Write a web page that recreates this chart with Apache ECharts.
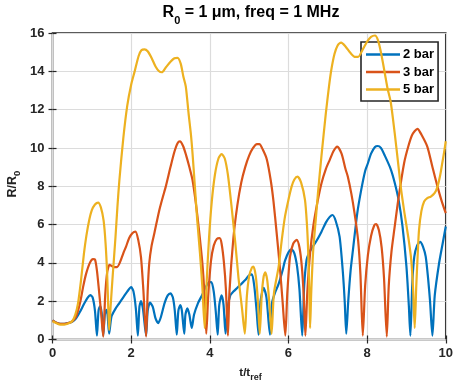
<!DOCTYPE html>
<html>
<head>
<meta charset="utf-8">
<script src="https://cdn.jsdelivr.net/npm/echarts@6/dist/echarts.min.js"></script>
<style>
  html, body { margin: 0; padding: 0; background: #fff; }
  #chart { width: 456px; height: 387px; }
</style>
</head>
<body>
<div id="chart"></div>
<script>
// Normalised bubble radius R/R0 against normalised time t/t_ref
const seriesNames = ['2 bar', '3 bar', '5 bar'];
const seriesColors = ['#0072BD', '#D95319', '#EDB120'];
const xTickValues = [0, 2, 4, 6, 8, 10];
const yTickValues = [0, 2, 4, 6, 8, 10, 12, 14, 16];

const bar2 = [
  [0,1.0],[0.1,0.88],[0.2,0.82],[0.3,0.82],[0.4,0.86],[0.5,0.92],[0.6,1.1],[0.7,1.45],[0.8,1.85],[0.9,2.2],
  [0.96,2.32],[1.02,2.2],[1.08,1.5],[1.13,0.2],[1.17,1.5],[1.21,1.75],[1.25,1.4],[1.29,0.2],[1.33,1.3],[1.37,1.55],
  [1.40,1.3],[1.44,0.3],[1.5,1.2],[1.6,1.6],[1.7,1.9],[1.8,2.2],[1.9,2.5],[2.0,2.73],[2.06,2.5],[2.12,1.6],
  [2.17,0.2],[2.21,1.7],[2.25,2.0],[2.3,1.6],[2.38,0.2],[2.42,1.5],[2.48,1.92],[2.55,1.7],[2.62,1.1],[2.69,0.86],
  [2.76,1.2],[2.85,1.9],[2.93,2.3],[3.0,2.41],[3.06,2.2],[3.11,1.5],[3.16,0.25],[3.2,1.5],[3.25,1.8],[3.29,1.5],
  [3.35,0.3],[3.38,1.3],[3.43,1.63],[3.48,1.3],[3.54,0.6],[3.6,1.3],[3.7,1.9],[3.8,2.3],[3.9,2.75],[3.98,3.0],
  [4.04,3.0],[4.1,2.5],[4.15,1.5],[4.2,0.25],[4.24,1.8],[4.3,2.3],[4.35,1.8],[4.4,0.3],[4.45,1.6],[4.52,2.3],
  [4.6,2.5],[4.7,2.7],[4.8,2.9],[4.9,3.1],[5.0,3.35],[5.07,3.4],[5.13,2.8],[5.19,1.5],[5.24,0.25],[5.29,2.0],
  [5.37,2.7],[5.44,2.2],[5.53,0.25],[5.58,1.9],[5.65,2.4],[5.75,2.9],[5.85,3.6],[5.91,4.1],[6.0,4.55],[6.08,4.7],
  [6.15,4.5],[6.22,3.8],[6.28,2.6],[6.35,0.2],[6.4,2.8],[6.46,4.15],[6.52,4.5],[6.6,4.8],[6.7,5.1],[6.84,5.63],
  [6.95,6.1],[7.05,6.4],[7.12,6.5],[7.2,6.2],[7.3,5.37],[7.38,3.6],[7.43,2.0],[7.47,0.3],[7.52,2.0],[7.58,3.6],
  [7.64,4.68],[7.75,6.6],[7.85,7.81],[7.95,8.8],[8.02,9.2],[8.1,9.7],[8.2,10.05],[8.27,10.1],[8.35,10.0],[8.45,9.6],
  [8.6,8.9],[8.7,8.2],[8.8,7.3],[8.9,5.9],[9.0,3.8],[9.06,1.8],[9.1,0.2],[9.15,3.0],[9.2,4.33],[9.27,4.9],
  [9.35,5.1],[9.42,4.85],[9.49,4.33],[9.55,3.2],[9.6,2.0],[9.66,0.2],[9.72,2.3],[9.83,3.98],[9.92,5.0],[10,5.9]
];

const bar3 = [
  [0,1.0],[0.1,0.88],[0.2,0.82],[0.3,0.82],[0.4,0.86],[0.5,0.95],[0.6,1.2],[0.7,1.9],[0.78,2.76],[0.85,3.4],
  [0.95,4.0],[1.03,4.2],[1.08,4.18],[1.13,3.6],[1.18,2.6],[1.24,1.3],[1.29,0.15],[1.34,2.3],[1.39,3.5],[1.45,3.9],
  [1.5,3.85],[1.57,3.78],[1.64,3.78],[1.72,4.05],[1.8,4.5],[1.87,4.85],[1.95,5.3],[2.03,5.55],[2.11,5.63],[2.18,5.2],
  [2.25,4.3],[2.31,2.6],[2.38,0.15],[2.42,2.5],[2.46,3.98],[2.52,4.9],[2.59,5.55],[2.71,6.7],[2.8,7.4],[2.88,7.98],
  [3.0,9.0],[3.1,9.8],[3.18,10.25],[3.24,10.34],[3.32,10.1],[3.4,9.6],[3.48,9.0],[3.56,8.33],[3.64,7.2],[3.72,5.8],
  [3.81,4.0],[3.86,2.5],[3.91,0.3],[3.96,2.3],[4.03,4.1],[4.1,4.9],[4.18,5.25],[4.25,5.29],[4.3,5.0],[4.36,4.0],
  [4.41,2.6],[4.46,0.2],[4.5,2.5],[4.6,5.3],[4.7,7.0],[4.8,8.2],[4.9,9.0],[5.0,9.6],[5.1,10.0],[5.2,10.2],
  [5.26,10.2],[5.35,9.9],[5.45,9.4],[5.55,8.3],[5.62,7.2],[5.7,5.55],[5.78,3.8],[5.85,2.0],[5.92,0.2],[5.97,2.4],
  [6.04,4.33],[6.12,5.0],[6.21,5.2],[6.28,4.8],[6.34,3.8],[6.39,2.2],[6.43,0.2],[6.48,2.5],[6.55,4.5],[6.63,5.9],
  [6.74,7.2],[6.84,8.16],[6.95,8.9],[7.05,9.38],[7.15,9.85],[7.24,10.07],[7.35,9.7],[7.45,8.9],[7.51,8.5],[7.6,7.6],
  [7.68,6.6],[7.77,5.2],[7.83,3.4],[7.89,0.2],[7.95,2.8],[8.02,4.4],[8.1,5.4],[8.18,5.95],[8.23,6.03],[8.3,5.7],
  [8.37,4.8],[8.43,3.2],[8.5,0.15],[8.55,2.8],[8.62,4.6],[8.69,5.72],[8.8,7.4],[8.94,9.2],[9.05,10.1],[9.15,10.7],
  [9.28,11.0],[9.38,10.7],[9.53,10.07],[9.65,9.1],[9.79,7.98],[9.9,7.2],[10,6.6]
];

const bar5 = [
  [0,0.95],[0.1,0.85],[0.2,0.78],[0.3,0.78],[0.4,0.83],[0.5,0.95],[0.58,1.3],[0.65,1.9],[0.72,3.0],[0.8,4.5],
  [0.86,5.4],[0.93,6.2],[1.0,6.75],[1.08,7.05],[1.16,7.15],[1.23,6.9],[1.3,6.2],[1.35,5.0],[1.39,3.4],[1.42,1.5],
  [1.44,0.5],[1.48,1.8],[1.53,3.3],[1.6,5.3],[1.65,6.9],[1.7,8.3],[1.8,10.5],[1.9,12.2],[2.0,13.3],[2.09,14.0],
  [2.19,14.8],[2.26,15.1],[2.34,15.15],[2.42,15.05],[2.52,14.7],[2.62,14.25],[2.71,14.0],[2.78,13.95],[2.88,14.2],[3.0,14.5],
  [3.1,14.68],[3.18,14.7],[3.26,14.4],[3.33,13.7],[3.39,13.2],[3.46,11.8],[3.52,10.7],[3.56,9.73],[3.62,8.0],[3.68,6.24],
  [3.75,4.5],[3.81,2.76],[3.87,0.6],[3.92,3.0],[3.98,5.3],[4.05,7.2],[4.13,8.6],[4.22,9.45],[4.30,9.68],[4.38,9.45],
  [4.46,8.6],[4.55,7.0],[4.65,5.0],[4.73,3.2],[4.82,1.6],[4.89,0.3],[4.94,2.2],[5.0,3.3],[5.07,3.75],[5.11,3.8],
  [5.17,3.3],[5.22,2.1],[5.27,0.3],[5.32,2.3],[5.37,3.3],[5.41,3.5],[5.46,3.1],[5.51,2.0],[5.57,0.3],[5.63,2.4],
  [5.75,3.8],[5.83,5.2],[5.91,6.4],[6.0,7.3],[6.08,7.98],[6.15,8.35],[6.23,8.5],[6.32,8.2],[6.42,7.29],[6.47,6.0],
  [6.5,4.68],[6.53,2.5],[6.55,0.6],[6.58,2.5],[6.63,4.68],[6.7,6.4],[6.75,7.64],[6.84,9.6],[6.95,11.8],[7.03,13.2],
  [7.09,14.08],[7.17,14.9],[7.25,15.35],[7.34,15.5],[7.45,15.3],[7.58,14.95],[7.7,14.75],[7.77,14.75],[7.88,15.1],[8.0,15.55],
  [8.1,15.8],[8.2,15.87],[8.28,15.6],[8.36,14.9],[8.45,13.9],[8.52,13.1],[8.6,12.4],[8.7,10.8],[8.8,9.0],[8.86,7.9],
  [8.95,6.6],[9.05,5.3],[9.12,4.2],[9.17,2.6],[9.21,0.6],[9.25,2.8],[9.29,4.6],[9.32,5.72],[9.38,6.7],[9.45,7.2],
  [9.53,7.38],[9.62,7.46],[9.72,7.65],[9.79,7.98],[9.86,8.6],[9.91,9.2],[9.96,9.8],[10,10.35]
];

const seriesData = [bar2, bar3, bar5];

const FONT = 'Liberation Sans, Arial, Helvetica, sans-serif';
const AXIS_COLOR = '#262626';

const chart = echarts.init(document.getElementById('chart'), null, { renderer: 'canvas' });

const xMin = xTickValues[0], xMax = xTickValues[xTickValues.length - 1];
const yMin = yTickValues[0], yMax = yTickValues[yTickValues.length - 1];
const xStep = xTickValues[1] - xTickValues[0];
const yStep = yTickValues[1] - yTickValues[0];

const tickLabel = { color: AXIS_COLOR, fontFamily: FONT, fontWeight: 'bold', fontSize: 13 };
const innerTick = { show: true, inside: true, length: 4, lineStyle: { color: AXIS_COLOR, width: 1.2 } };

const option = {
  animation: false,
  backgroundColor: '#fff',
  grid: {
    left: 52.5, right: 7.5, top: 33, bottom: 47.5,
    show: true, borderColor: AXIS_COLOR, borderWidth: 1.6, backgroundColor: '#fff'
  },
  xAxis: [
    {
      type: 'value', min: xMin, max: xMax, interval: xStep, position: 'bottom',
      axisLine: { show: false },
      axisTick: innerTick,
      axisLabel: Object.assign({ margin: 7 }, tickLabel),
      splitLine: { show: true, lineStyle: { color: '#dcdcdc', width: 1.2 } }
    },
    {
      type: 'value', min: xMin, max: xMax, interval: xStep, position: 'top',
      axisLine: { show: false },
      axisTick: innerTick,
      axisLabel: { show: false },
      splitLine: { show: false }
    }
  ],
  yAxis: [
    {
      type: 'value', min: yMin, max: yMax, interval: yStep, position: 'left',
      axisLine: { show: false },
      axisTick: innerTick,
      axisLabel: Object.assign({ margin: 8 }, tickLabel),
      splitLine: { show: true, lineStyle: { color: '#dcdcdc', width: 1.2 } }
    },
    {
      type: 'value', min: yMin, max: yMax, interval: yStep, position: 'right',
      axisLine: { show: false },
      axisTick: innerTick,
      axisLabel: { show: false },
      splitLine: { show: false }
    }
  ],
  legend: {
    orient: 'vertical',
    left: 361, top: 42,
    width: 76,
    padding: [5, 4, 4, 5],
    itemGap: 2.5,
    itemWidth: 34,
    itemHeight: 2.5,
    icon: 'rect',
    backgroundColor: '#fff',
    borderColor: AXIS_COLOR,
    borderWidth: 1.6,
    borderRadius: 0,
    textStyle: { color: '#000', fontFamily: FONT, fontWeight: 'bold', fontSize: 13, padding: [0, 0, 0, -2], lineHeight: 15 },
    data: seriesNames
  },
  graphic: [
    {
      type: 'text', x: 251, y: 5,
      style: {
        text: '{b|R}{s|0}{b| = 1 μm, freq = 1 MHz}',
        textAlign: 'center', textVerticalAlign: 'top',
        fill: '#000',
        rich: {
          b: { fontFamily: FONT, fontWeight: 'bold', fontSize: 16, verticalAlign: 'top', lineHeight: 19, fill: '#000' },
          s: { fontFamily: FONT, fontWeight: 'bold', fontSize: 11, verticalAlign: 'top', lineHeight: 13, padding: [10, 0, 0, 0], fill: '#000' }
        }
      }
    },
    {
      type: 'text', x: 250.5, y: 367,
      style: {
        text: '{b|t/t}{s|ref}',
        textAlign: 'center', textVerticalAlign: 'top',
        fill: '#222',
        rich: {
          b: { fontFamily: FONT, fontWeight: 'bold', fontSize: 11.5, verticalAlign: 'top', lineHeight: 13, fill: '#222' },
          s: { fontFamily: FONT, fontWeight: 'bold', fontSize: 9, verticalAlign: 'top', lineHeight: 10, padding: [6, 0, 0, 0], fill: '#222' }
        }
      }
    },
    {
      type: 'text', x: 6, y: 184, rotation: Math.PI / 2,
      style: {
        text: '{b|R/R}{s|0}',
        textAlign: 'center', textVerticalAlign: 'top',
        fill: '#222',
        rich: {
          b: { fontFamily: FONT, fontWeight: 'bold', fontSize: 12.5, verticalAlign: 'top', lineHeight: 14, fill: '#222' },
          s: { fontFamily: FONT, fontWeight: 'bold', fontSize: 9.5, verticalAlign: 'top', lineHeight: 11, padding: [6, 0, 0, 0], fill: '#222' }
        }
      }
    }
  ],
  series: seriesNames.map((name, i) => ({
    name: name,
    type: 'line',
    xAxisIndex: 0,
    yAxisIndex: 0,
    data: seriesData[i],
    showSymbol: false,
    symbol: 'none',
    smooth: 0.25,
    clip: true,
    color: seriesColors[i],
    lineStyle: { color: seriesColors[i], width: 2.2 },
    z: 2 + i
  }))
};

chart.setOption(option);
</script>
</body>
</html>
